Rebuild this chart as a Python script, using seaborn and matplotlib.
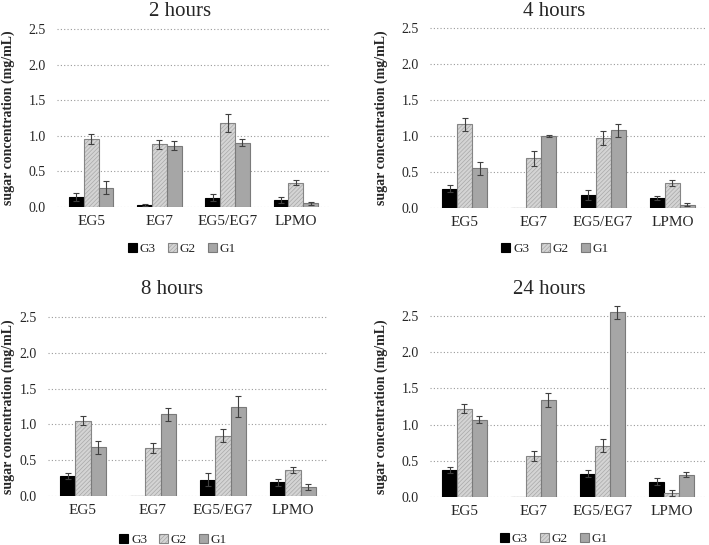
import numpy as np
import pandas as pd
import seaborn as sns
import matplotlib.pyplot as plt

################################################################################
# data (mean and error bar half-length, mg/mL)
enzymes = ['EG5', 'EG7', 'EG5/EG7', 'LPMO']
sugars = ['G3', 'G2', 'G1']

h2_g3 = [0.14, 0.03, 0.13, 0.10]
h2_g2 = [0.96, 0.88, 1.18, 0.34]
h2_g1 = [0.27, 0.86, 0.90, 0.05]
h2_g3_err = [0.05, 0.01, 0.05, 0.04]
h2_g2_err = [0.07, 0.065, 0.12, 0.035]
h2_g1_err = [0.09, 0.06, 0.05, 0.02]

h4_g3 = [0.27, 0.005, 0.18, 0.14]
h4_g2 = [1.16, 0.69, 0.97, 0.35]
h4_g1 = [0.55, 1.00, 1.08, 0.045]
h4_g3_err = [0.05, 0.0, 0.065, 0.03]
h4_g2_err = [0.095, 0.10, 0.10, 0.045]
h4_g1_err = [0.09, 0.02, 0.09, 0.02]

h8_g3 = [0.28, 0.0, 0.23, 0.19]
h8_g2 = [1.05, 0.67, 0.84, 0.36]
h8_g1 = [0.68, 1.14, 1.25, 0.125]
h8_g3_err = [0.04, 0.0, 0.09, 0.045]
h8_g2_err = [0.065, 0.07, 0.09, 0.04]
h8_g1_err = [0.09, 0.09, 0.15, 0.04]

h24_g3 = [0.37, 0.005, 0.32, 0.21]
h24_g2 = [1.22, 0.57, 0.71, 0.055]
h24_g1 = [1.07, 1.34, 2.55, 0.31]
h24_g3_err = [0.045, 0.0, 0.05, 0.05]
h24_g2_err = [0.06, 0.07, 0.09, 0.04]
h24_g1_err = [0.045, 0.09, 0.09, 0.04]

titles = ['2 hours', '4 hours', '8 hours', '24 hours']
yticks = [0.0, 0.5, 1.0, 1.5, 2.0, 2.5]
ylabel = 'sugar concentration (mg/mL)'

################################################################################
panels = [
    (h2_g3, h2_g2, h2_g1, h2_g3_err, h2_g2_err, h2_g1_err),
    (h4_g3, h4_g2, h4_g1, h4_g3_err, h4_g2_err, h4_g1_err),
    (h8_g3, h8_g2, h8_g1, h8_g3_err, h8_g2_err, h8_g1_err),
    (h24_g3, h24_g2, h24_g1, h24_g3_err, h24_g2_err, h24_g1_err),
]

# pixel layout: x left, x right, y of 2.5, y of 0.0, title (x, y), ylabel x, legend (x, y)
layout = [
    (57, 330, 29, 207, (180, 12), 8, (182, 249)),
    (430, 707, 28, 208, (554, 12), 381, (555, 249)),
    (48, 328, 317, 496, (172, 290), 8, (173, 540)),
    (430, 706, 316, 497, (549, 289), 381, (554, 539)),
]

sns.set_style('white')
plt.rcParams['font.family'] = ['Liberation Serif', 'DejaVu Serif']
plt.rcParams['hatch.linewidth'] = 0.5

W, H = 709, 545
fig = plt.figure(figsize=(W / 100, H / 100), dpi=100)

colors = {'G3': '#000000', 'G2': '#d4d4d4', 'G1': '#a6a6a6'}
edge = {'G3': '#000000', 'G2': '#858585', 'G1': '#7a7a7a'}
ytop = 2.75

for i, (vals, lay) in enumerate(zip(panels, layout)):
    xl, xr, y25, y0, tpos, ylx, lpos = lay
    px_per = (y0 - y25) / 2.5
    ax_h = px_per * ytop
    ax = fig.add_axes([xl / W, (H - y0) / H, (xr - xl) / W, ax_h / H])

    df = pd.DataFrame({
        'enzyme': enzymes * 3,
        'sugar': np.repeat(sugars, len(enzymes)),
        'value': list(vals[0]) + list(vals[1]) + list(vals[2]),
    })
    errs = [vals[3], vals[4], vals[5]]

    sns.barplot(data=df, x='enzyme', y='value', hue='sugar', hue_order=sugars,
                order=enzymes, palette=colors, width=0.65, gap=0,
                errorbar=None, legend=False, ax=ax, linewidth=0.8)

    for s, cont, err in zip(sugars, ax.containers, errs):
        xs, ys, es = [], [], []
        for bar, e in zip(cont, err):
            bar.set_edgecolor(edge[s])
            if s == 'G2':
                bar.set_hatch('////////')
                bar._hatch_color = (0.66, 0.66, 0.66, 1.0)
            if e > 0:
                xs.append(bar.get_x() + bar.get_width() / 2)
                ys.append(bar.get_height())
                es.append(e)
        ax.errorbar(xs, ys, yerr=es, fmt='none', ecolor='#404040',
                    elinewidth=0.8, capsize=2, capthick=0.8, zorder=5)

    ax.set_xlim(-0.5, 3.5)
    ax.set_ylim(0, ytop)
    ax.set_yticks(yticks)
    ax.set_yticklabels(['%.1f' % t for t in yticks])
    ax.set_xlabel('')
    ax.set_ylabel('')
    ax.tick_params(axis='y', length=0, pad=8, labelsize=10)
    ax.tick_params(axis='x', length=0, pad=6, labelsize=11)
    for sp in ax.spines.values():
        sp.set_visible(False)
    ax.yaxis.grid(True, linestyle=(0, (1, 2)), color='#9a9a9a', linewidth=0.8)
    ax.set_axisbelow(True)
    ax.patch.set_alpha(0)

    fig.text(tpos[0] / W, 1 - tpos[1] / H, titles[i], ha='center', va='center',
             fontsize=15)
    fig.text(ylx / W, 1 - ((y25 + y0) / 2) / H, ylabel, ha='center', va='center',
             rotation=90, fontsize=10, fontweight='bold')

    ax.legend(handles=list(ax.containers), labels=sugars, ncol=3, frameon=False,
              loc='center', bbox_to_anchor=(lpos[0] / W, 1 - lpos[1] / H),
              bbox_transform=fig.transFigure, fontsize=9.5, handlelength=0.7,
              handleheight=0.7, handletextpad=0.2, columnspacing=0.9,
              borderpad=0)

fig.savefig('out.png', dpi=100)
